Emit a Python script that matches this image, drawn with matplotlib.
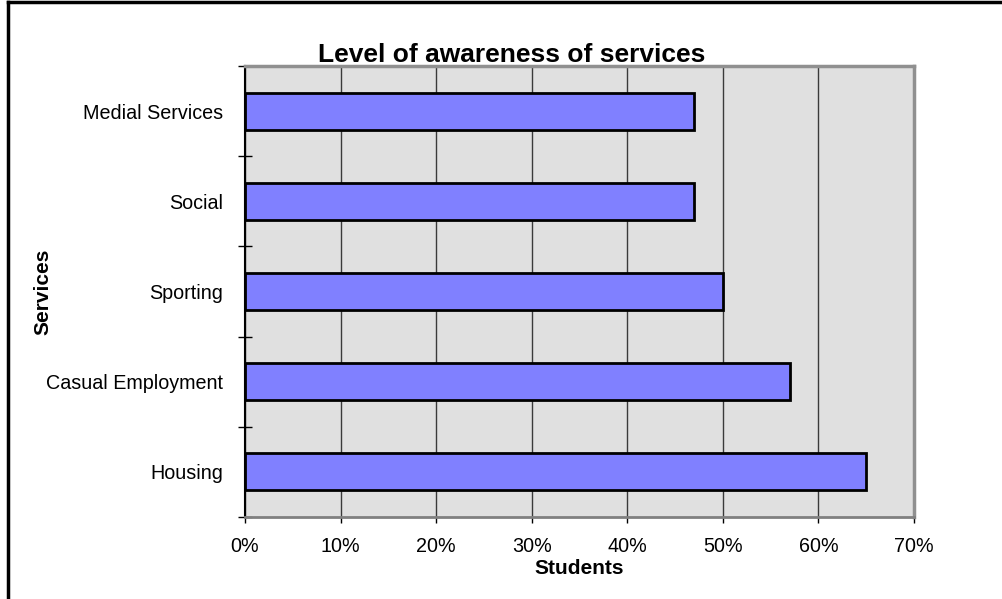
import matplotlib
matplotlib.use("Agg")
import matplotlib.pyplot as plt
from matplotlib.lines import Line2D
from matplotlib.ticker import PercentFormatter

services = ["Housing", "Casual Employment", "Sporting", "Social", "Medial Services"]
awareness = [65, 57, 50, 47, 47]  # % of students
x_ticks = [0, 10, 20, 30, 40, 50, 60, 70]

plt.rcParams['font.family'] = ['Liberation Sans', 'DejaVu Sans']

fig = plt.figure(figsize=(10.03, 5.99), dpi=100, facecolor='white')
ax = fig.add_axes([245/1003, 82/599, 669/1003, 451/599])
ax.set_facecolor('#e0e0e0')

pos = list(range(len(services)))
ax.barh(pos, awareness, height=0.41, color='#8080ff', edgecolor='black',
        linewidth=2, zorder=3)

ax.set_xlim(0, 70)
ax.set_ylim(-0.5, len(services) - 0.5)
ax.set_xticks(x_ticks)
ax.xaxis.set_major_formatter(PercentFormatter(decimals=0))
ax.set_yticks(pos)
ax.set_yticklabels(services)
ax.set_yticks([p - 0.5 for p in pos] + [len(services) - 0.5], minor=True)

ax.grid(axis='x', color='#3a3a3a', linewidth=1, zorder=1)
ax.tick_params(axis='y', which='major', length=0, pad=16, labelsize=14.2)
ax.tick_params(axis='y', which='minor', direction='inout', length=10, width=1)
ax.tick_params(axis='x', direction='out', length=4.5, width=1, pad=10, labelsize=14.2)

for side in ['top', 'right']:
    ax.spines[side].set_color('#909090')
    ax.spines[side].set_linewidth(2.5)
ax.spines['bottom'].set_color('#808080')
ax.spines['bottom'].set_linewidth(2)
ax.spines['left'].set_color('black')
ax.spines['left'].set_linewidth(1.5)

fig.text(512/1003, 1 - 62/599, "Level of awareness of services",
         ha='center', va='baseline', fontsize=19, fontweight='bold')
fig.text(579/1003, 1 - 574/599, "Students", ha='center', va='baseline',
         fontsize=15, fontweight='bold')
fig.text(43/1003, 1 - 292/599, "Services", ha='center', va='center',
         rotation=90, fontsize=15, fontweight='bold')

# outer frame (only top and left edges visible)
fig.add_artist(Line2D([8/1003, 8/1003], [0, 1 - 2/599], color='black',
                      linewidth=2.5, transform=fig.transFigure))
fig.add_artist(Line2D([8/1003, 1], [1 - 2/599, 1 - 2/599], color='black',
                      linewidth=2.5, transform=fig.transFigure))

fig.savefig("out.png", dpi=100)
